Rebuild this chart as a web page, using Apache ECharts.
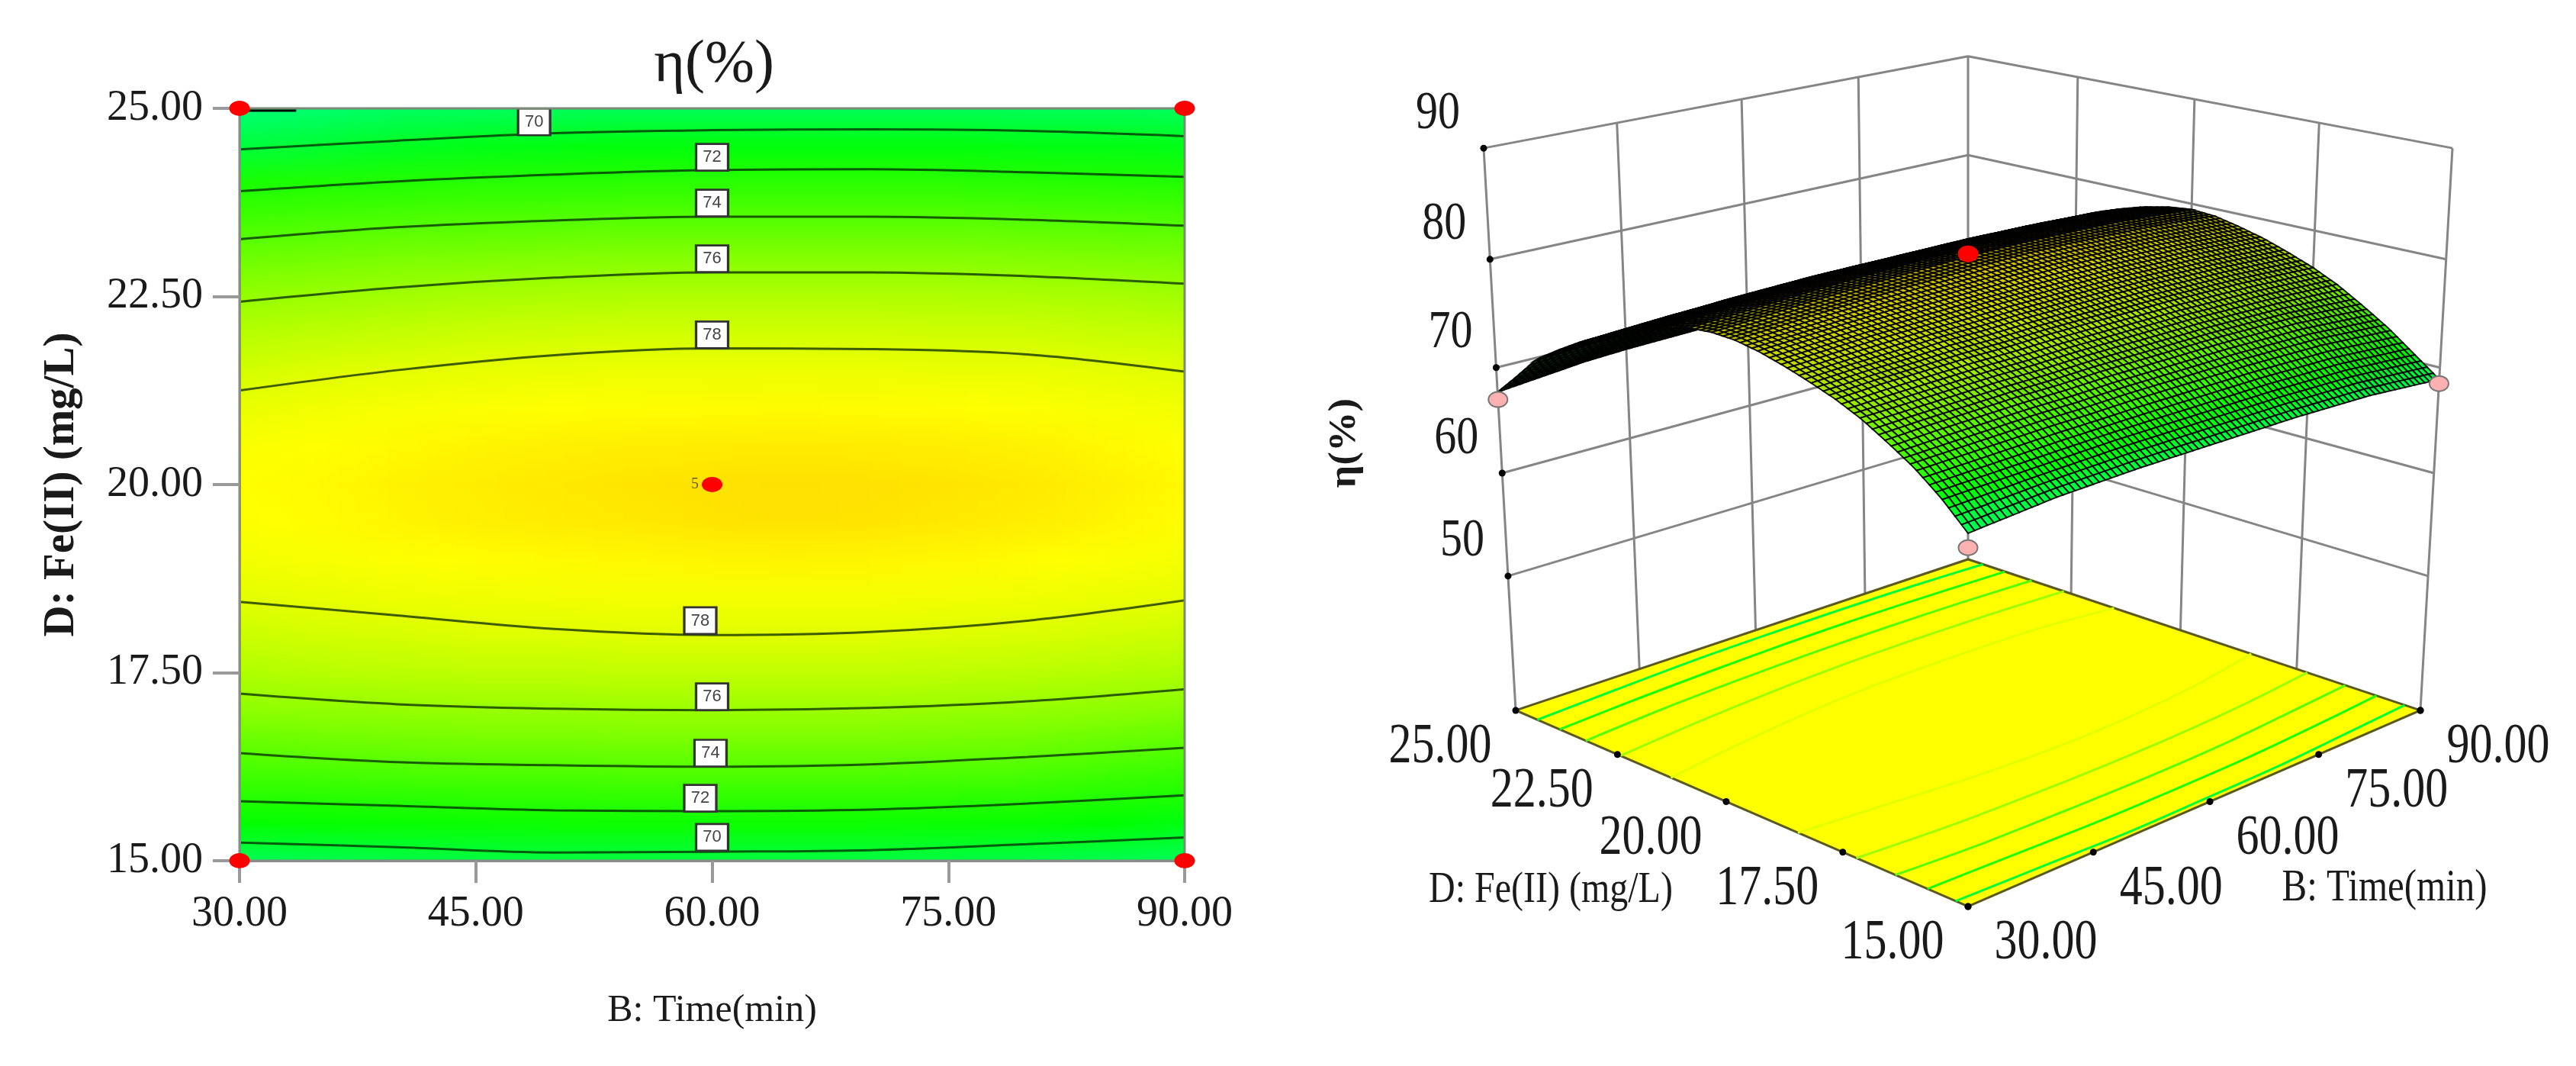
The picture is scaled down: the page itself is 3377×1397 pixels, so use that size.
<!DOCTYPE html>
<html><head><meta charset="utf-8">
<style>html,body{margin:0;padding:0;background:#fff}#c{width:3377px;height:1397px}</style>
<script src="https://cdn.jsdelivr.net/npm/echarts@6/dist/echarts.min.js"></script>
</head><body><div id="c"></div>
<script>
// ---------- data ----------
const timeTicks = [30, 45, 60, 75, 90];
const fe2Ticks = [15, 17.5, 20, 22.5, 25];
const etaTicks = [50, 60, 70, 80, 90];
const tableTime = [30, 35, 40, 45, 50, 55, 60, 65, 70, 75, 80, 85, 90];
const tableFe2 = [15, 15.5, 16, 16.5, 17, 17.5, 18, 18.5, 19, 19.5, 20, 20.5, 21, 21.5, 22, 22.5, 23, 23.5, 24, 24.5, 25];
const etaTable = [
 [68.9,69.2,69.5,69.6,69.7,69.7,69.7,69.7,69.7,69.6,69.5,69.2,68.9],
 [71.1,71.2,71.3,71.4,71.5,71.5,71.5,71.5,71.5,71.4,71.3,71.0,70.7],
 [72.9,73.0,73.1,73.2,73.2,73.3,73.3,73.3,73.3,73.2,73.1,72.8,72.5],
 [74.3,74.5,74.6,74.7,74.7,74.8,74.8,74.8,74.8,74.7,74.6,74.3,74.0],
 [75.6,75.7,75.8,75.9,75.9,76.0,76.0,76.0,76.0,75.9,75.8,75.6,75.4],
 [76.6,76.8,76.9,77.0,77.0,77.1,77.1,77.1,77.1,77.0,76.9,76.7,76.5],
 [77.4,77.6,77.7,77.9,77.9,78.0,78.0,78.0,78.0,77.9,77.8,77.6,77.4],
 [78.1,78.3,78.5,78.6,78.7,78.8,78.8,78.8,78.8,78.7,78.6,78.4,78.2],
 [78.7,78.9,79.1,79.25,79.35,79.45,79.55,79.6,79.55,79.45,79.3,79.05,78.8],
 [79.1,79.3,79.55,79.75,79.9,80.0,80.15,80.2,80.15,80.0,79.85,79.6,79.3],
 [79.2,79.4,79.65,79.85,80.0,80.15,80.25,80.3,80.25,80.15,80.0,79.75,79.45],
 [79.0,79.2,79.4,79.6,79.75,79.85,79.9,79.95,79.9,79.85,79.7,79.45,79.2],
 [78.4,78.7,78.9,79.05,79.2,79.25,79.3,79.35,79.3,79.25,79.1,78.9,78.7],
 [77.6,77.9,78.1,78.3,78.4,78.5,78.5,78.5,78.5,78.4,78.4,78.2,78.0],
 [76.8,77.0,77.2,77.4,77.5,77.6,77.6,77.6,77.6,77.5,77.5,77.3,77.2],
 [75.8,76.0,76.2,76.4,76.5,76.6,76.6,76.6,76.6,76.6,76.5,76.4,76.2],
 [74.7,74.9,75.1,75.2,75.3,75.4,75.4,75.4,75.4,75.4,75.3,75.2,75.1],
 [73.4,73.6,73.8,73.9,74.0,74.1,74.1,74.1,74.1,74.1,74.0,73.9,73.8],
 [72.0,72.2,72.3,72.5,72.5,72.6,72.6,72.6,72.6,72.6,72.5,72.4,72.3],
 [69.8,70.1,70.4,70.6,70.7,70.8,70.8,70.8,70.8,70.8,70.7,70.7,70.6],
 [67.7,68.1,68.5,68.7,68.8,68.9,68.9,68.9,68.9,68.9,68.8,68.8,68.7]
];
const contourTime = [30, 40, 50, 60, 70, 80, 90];
const contourLevels = [70, 72, 74, 76, 78];
const contourUpper = [
 [24.455,24.57,24.67,24.71,24.72,24.70,24.63],
 [23.90,24.03,24.12,24.18,24.19,24.15,24.09],
 [23.26,23.42,23.51,23.56,23.56,23.52,23.44],
 [22.43,22.62,22.75,22.82,22.82,22.77,22.67],
 [21.25,21.52,21.72,21.81,21.80,21.73,21.50]
];
const contourLower = [
 [15.24,15.18,15.11,15.12,15.14,15.22,15.31],
 [15.79,15.73,15.67,15.66,15.68,15.76,15.87],
 [16.43,16.31,16.27,16.25,16.28,16.38,16.50],
 [17.22,17.08,17.02,17.00,17.03,17.12,17.28],
 [18.44,18.26,18.08,18.00,18.04,18.19,18.46]
];
const cornerContour = [[30,24.97],[33.6,24.97]];
const contourLabels = [
 [48.7,24.82,'70'],[60,24.35,'72'],[60,23.74,'74'],[60,23.0,'76'],[60,21.99,'78'],
 [59.25,18.19,'78'],[60,17.18,'76'],[59.9,16.43,'74'],[59.25,15.83,'72'],[60,15.31,'70']
];
const designCorners = [[30,15,67.7],[30,25,67.0],[90,15,68.5]];
const designPlan = [[30,15],[30,25],[90,15],[90,25]];
const designCenter = [60,20,80.5];
const centerCount = '5';
const colorStops = [[66,[0,255,150]],[67.5,[0,255,125]],[70,[0,255,55]],[71,[0,255,0]],[72,[25,255,0]],[74,[85,255,0]],[76,[155,255,0]],[78,[225,255,0]],[79.2,[255,255,0]],[80.3,[255,225,0]],[82,[255,190,0]]];
const titleText = 'η(%)', timeName = 'B: Time(min)', fe2Name = 'D: Fe(II) (mg/L)';

// ---------- helpers ----------
function cmap(v){
  let s=colorStops;
  if(v<=s[0][0]) return s[0][1];
  for(let i=1;i<s.length;i++){ if(v<=s[i][0]){ let t=(v-s[i-1][0])/(s[i][0]-s[i-1][0]);
    return s[i][1].map((c,k)=>Math.round(s[i-1][1][k]+(c-s[i-1][1][k])*t)); } }
  return s[s.length-1][1];
}
const rgb=c=>`rgb(${c[0]},${c[1]},${c[2]})`;
function etaAt(B,D){
  let i=Math.min(tableTime.length-2,Math.floor((B-30)/5)), j=Math.min(tableFe2.length-2,Math.floor((D-15)/0.5));
  let u=(B-tableTime[i])/5, v=(D-tableFe2[j])/0.5;
  return etaTable[j][i]*(1-u)*(1-v)+etaTable[j][i+1]*u*(1-v)+etaTable[j+1][i]*(1-u)*v+etaTable[j+1][i+1]*u*v;
}
// camera for the 3-D panel
const cam={f:4235,d:10.1,s:0.3772,c:0.9261,z0:0.446,zk:0.03315};
const floorEta=36.55;
function proj(B,D,eta){
  const X=(B-60)/30,Y=(D-20)/5,Z=cam.z0+(eta-50)*cam.zk;
  const xl=(X-Y)/Math.SQRT2,q=-(X+Y)/Math.SQRT2;
  const yc=Z*cam.c-q*cam.s, zc=cam.d-(Z*cam.s+q*cam.c);
  return [cam.f*xl/zc,cam.f*yc/zc];
}
const serif='"Liberation Serif","Times New Roman",serif';

// ---------- left panel: colour field ----------
const fieldSub=8, fieldCols=[];
for(let i=0;i<tableTime.length-1;i++) for(let k=0;k<fieldSub;k++) fieldCols.push([tableTime[i]+5*k/fieldSub,tableTime[i]+5*(k+1)/fieldSub]);
function renderField(p,api){
  const c=fieldCols[p.dataIndex], a=api.coord([c[0],25]), b=api.coord([c[1],15]);
  const mid=(c[0]+c[1])/2;
  const stops=tableFe2.map(d=>({offset:(d-15)/10,color:rgb(cmap(etaAt(mid,d)))}));
  return {type:'rect',shape:{x:a[0],y:a[1],width:b[0]-a[0]+1.2,height:b[1]-a[1]},
    style:{fill:new echarts.graphic.LinearGradient(0,1,0,0,stops)},silent:true};
}
function renderFrame(p,api){
  const a=api.coord([30,25]), b=api.coord([90,15]);
  return {type:'rect',shape:{x:a[0],y:a[1],width:b[0]-a[0],height:b[1]-a[1]},style:{fill:'none',stroke:'#7d8a78',lineWidth:3},silent:true};
}
const contourSeries=[];
[contourUpper,contourLower].forEach(set=>set.forEach(row=>{
  contourSeries.push({type:'line',xAxisIndex:0,yAxisIndex:0,smooth:0.35,showSymbol:false,silent:true,z:3,
    lineStyle:{color:'rgba(0,30,0,0.72)',width:3},data:row.map((d,i)=>[contourTime[i],d])});
}));
contourSeries.push({type:'line',xAxisIndex:0,yAxisIndex:0,showSymbol:false,silent:true,z:8,lineStyle:{color:'#000',width:3},data:cornerContour});

// ---------- right panel ----------
const meshN=84, cells=[];
for(let i=meshN-1;i>=0;i--) for(let j=meshN-1;j>=0;j--) cells.push([30+60*i/meshN,15+10*j/meshN,30+60*(i+1)/meshN,15+10*(j+1)/meshN]);
function pt(api,B,D,e){return api.coord(proj(B,D,e));}
const view=[-0.656,-0.656,0.377];
function renderCell(p,api){
  const c=cells[p.dataIndex];
  const e00=etaAt(c[0],c[1]),e10=etaAt(c[2],c[1]),e11=etaAt(c[2],c[3]),e01=etaAt(c[0],c[3]);
  const dX=(c[2]-c[0])/30, dY=(c[3]-c[1])/5;
  const gx=((e10+e11-e00-e01)/2)*cam.zk/dX, gy=((e01+e11-e00-e10)/2)*cam.zk/dY;
  const nl=Math.hypot(gx,gy,1);
  const facing=(-gx*view[0]-gy*view[1]+view[2])/nl;
  const shade=Math.max(0,Math.min(1,0.3+1.05*facing));
  const col=cmap((e00+e10+e11+e01)/4).map(v=>Math.round(v*shade));
  return {type:'polygon',z2:p.dataIndex,silent:true,
    shape:{points:[pt(api,c[0],c[1],e00),pt(api,c[2],c[1],e10),pt(api,c[2],c[3],e11),pt(api,c[0],c[3],e01)]},
    style:{fill:rgb(col),stroke:'rgba(0,0,0,0.92)',lineWidth:1.9}};
}
const wallLines=[];
etaTicks.forEach(e=>{wallLines.push([30,25,e,90,25,e]);wallLines.push([90,25,e,90,15,e]);});
timeTicks.forEach(b=>wallLines.push([b,25,floorEta,b,25,90]));
fe2Ticks.slice(0,-1).forEach(d=>wallLines.push([90,d,floorEta,90,d,90]));
function renderWall(p,api){
  const l=wallLines[p.dataIndex],a=pt(api,l[0],l[1],l[2]),b=pt(api,l[3],l[4],l[5]);
  return {type:'line',silent:true,shape:{x1:a[0],y1:a[1],x2:b[0],y2:b[1]},style:{stroke:'#858585',lineWidth:3}};
}
function renderFloor(p,api){
  const k=[[30,15],[90,15],[90,25],[30,25]].map(q=>pt(api,q[0],q[1],floorEta));
  const kids=[{type:'polygon',shape:{points:k},style:{fill:'#ffff00',stroke:'#5a5a20',lineWidth:3}}];
  [contourUpper,contourLower].forEach(set=>set.forEach((row,n)=>{
    kids.push({type:'polyline',shape:{points:row.map((d,i)=>pt(api,contourTime[i],d,floorEta)),smooth:0.3},
      style:{fill:'none',stroke:rgb(cmap(contourLevels[n])),lineWidth:3}});
  }));
  return {type:'group',silent:true,children:kids};
}
const tickDots=[];
etaTicks.forEach(e=>tickDots.push([30,25,e]));
fe2Ticks.forEach(d=>tickDots.push([30,d,floorEta]));
timeTicks.forEach(b=>tickDots.push([b,15,floorEta]));
tickDots.push([90,15,floorEta]);
function renderDot(p,api){
  const q=tickDots[p.dataIndex],a=pt(api,q[0],q[1],q[2]);
  return {type:'circle',silent:true,shape:{cx:a[0],cy:a[1],r:4.5},style:{fill:'#000'}};
}
const balls=designCorners.map(b=>[b[0],b[1],b[2],'#ffb0b0','#777']).concat([[designCenter[0],designCenter[1],designCenter[2],'#ff0000','#ff0000']]);
function renderBall(p,api){
  const b=balls[p.dataIndex],a=pt(api,b[0],b[1],b[2]);
  return {type:'ellipse',silent:true,shape:{cx:a[0],cy:a[1],rx:12.5,ry:10},style:{fill:b[3],stroke:b[4],lineWidth:2}};
}
const labels3d=[];
fe2Ticks.forEach(d=>labels3d.push({at:[30,d,floorEta],t:d.toFixed(2),dx:-99,dy:49,fs:60,sy:1.22}));
timeTicks.forEach(b=>labels3d.push({at:[b,15,floorEta],t:b.toFixed(2),dx:102,dy:49,fs:60,sy:1.22}));
etaTicks.forEach(e=>labels3d.push({at:[30,25,e],t:String(e),dx:-60,dy:-45,fs:58,sy:1.22}));
labels3d.push({at:[30,20,floorEta],t:fe2Name,dx:-230,dy:116,fs:48,sy:1.2});
labels3d.push({at:[60,15,floorEta],t:timeName,dx:229,dy:114,fs:49,sy:1.2});
labels3d.push({at:[30,25,70],t:titleText,dx:-198,dy:99,fs:50,rot:Math.PI/2,sy:1,sx:1.05,w:'bold'});
function renderLabel(p,api){
  const l=labels3d[p.dataIndex],a=pt(api,l.at[0],l.at[1],l.at[2]);
  return {type:'text',silent:true,x:a[0]+l.dx,y:a[1]+l.dy,rotation:l.rot||0,scaleX:l.sx||1,scaleY:l.sy||1,
    style:{text:l.t,fill:'#1a1a1a',fontFamily:serif,fontSize:l.fs,fontWeight:l.w||'normal',align:'center',verticalAlign:'middle',textAlign:'center',textVerticalAlign:'middle'}};
}
function idx(a){return a.map((_,i)=>[i,0]);}
function s3d(render,arr,z){return {type:'custom',xAxisIndex:1,yAxisIndex:1,coordinateSystem:'cartesian2d',clip:false,silent:true,z:z,progressive:0,animation:false,renderItem:render,data:idx(arr)};}

const chart=echarts.init(document.getElementById('c'),null,{renderer:'canvas',width:3377,height:1397});
chart.setOption({
  animation:false,backgroundColor:'#fff',
  title:{text:titleText,left:931,top:42,textAlign:'center',textStyle:{fontFamily:serif,fontSize:78,fontWeight:'normal',color:'#1a1a1a'}},
  grid:[{left:314,right:1824,top:142,bottom:269},{left:1900,width:1360,top:0,height:1397,show:false}],
  xAxis:[
   {type:'value',gridIndex:0,min:30,max:90,interval:15,z:8,name:timeName,nameLocation:'middle',nameGap:172,
    nameTextStyle:{fontFamily:serif,fontSize:50,color:'#1a1a1a'},
    axisLine:{show:true,lineStyle:{color:'#8c8c8c',width:3}},axisTick:{show:true,length:29,lineStyle:{color:'#999',width:4}},
    axisLabel:{formatter:v=>v.toFixed(2),fontFamily:serif,fontSize:56,color:'#1a1a1a',margin:42,hideOverlap:false,showMinLabel:true,showMaxLabel:true},splitLine:{show:false}},
   {type:'value',gridIndex:1,min:-680,max:680,show:false}
  ],
  yAxis:[
   {type:'value',gridIndex:0,min:15,max:25,interval:2.5,z:8,name:fe2Name,nameLocation:'middle',nameGap:204,nameRotate:90,
    nameTextStyle:{fontFamily:serif,fontSize:57,fontWeight:'bold',color:'#1a1a1a'},
    axisLine:{show:true,lineStyle:{color:'#8c8c8c',width:3}},axisTick:{show:true,length:35,lineStyle:{color:'#999',width:4}},
    axisLabel:{formatter:v=>v.toFixed(2),fontFamily:serif,fontSize:56,color:'#1a1a1a',margin:48,showMinLabel:true,showMaxLabel:true},splitLine:{show:false}},
   {type:'value',gridIndex:1,min:-466,max:931,show:false}
  ],
  series:[
   {type:'custom',xAxisIndex:0,yAxisIndex:0,clip:true,silent:true,z:1,progressive:0,renderItem:renderField,data:fieldCols.map(c=>[c[0],20])},
   ...contourSeries,
   {type:'custom',xAxisIndex:0,yAxisIndex:0,clip:false,silent:true,z:7,renderItem:renderFrame,data:[[60,20]]},
   {type:'scatter',xAxisIndex:0,yAxisIndex:0,clip:false,silent:true,z:6,symbol:'rect',symbolSize:[42,35],
    itemStyle:{color:'#fff',borderColor:'#333',borderWidth:3,opacity:1},
    label:{show:true,position:'inside',formatter:p=>p.value[2],fontFamily:'"Liberation Sans",sans-serif',fontSize:22,color:'#444'},
    data:contourLabels},
   {type:'scatter',xAxisIndex:0,yAxisIndex:0,clip:false,silent:true,z:9,symbol:'circle',symbolSize:[27,20],itemStyle:{color:'#ff0000',opacity:1},
    data:designPlan},
   {type:'scatter',xAxisIndex:0,yAxisIndex:0,clip:false,silent:true,z:9,symbol:'circle',symbolSize:[27,20],itemStyle:{color:'#ff0000',opacity:1},
    label:{show:true,position:'left',distance:4,formatter:centerCount,fontFamily:serif,fontSize:20,color:'#6a5a00'},
    data:[[designCenter[0],designCenter[1]]]},
   s3d(renderWall,wallLines,1),
   s3d(renderFloor,[0],2),
   s3d(renderCell,cells,3),
   s3d(renderBall,balls,4),
   s3d(renderDot,tickDots,2),
   s3d(renderLabel,labels3d,5)
  ]
});
</script></body></html>
